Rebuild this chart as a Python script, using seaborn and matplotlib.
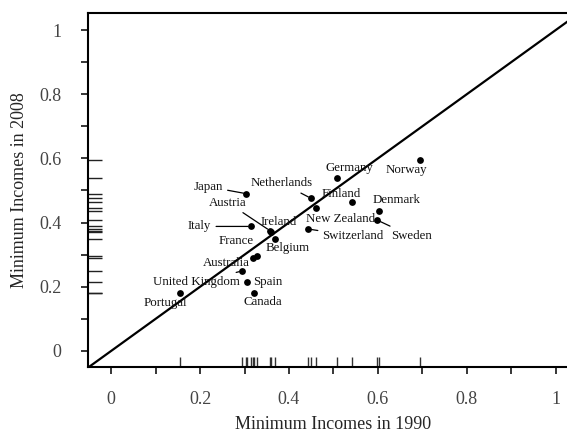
import matplotlib
matplotlib.use("Agg")
import matplotlib.pyplot as plt
import seaborn as sns
import pandas as pd

# Minimum income levels by country, 1990 vs 2008
countries = ["Norway", "Germany", "Japan", "Netherlands", "Finland", "New Zealand",
             "Denmark", "Sweden", "Italy", "Switzerland", "Austria", "Ireland",
             "Belgium", "France", "Australia", "United Kingdom", "Spain", "Canada",
             "Portugal"]
income_1990 = [0.694, 0.509, 0.304, 0.449, 0.541, 0.461, 0.603, 0.598, 0.314, 0.443,
               0.357, 0.360, 0.369, 0.320, 0.327, 0.294, 0.306, 0.321, 0.155]
income_2008 = [0.595, 0.538, 0.490, 0.476, 0.464, 0.446, 0.436, 0.408, 0.388, 0.380,
               0.375, 0.372, 0.349, 0.289, 0.296, 0.249, 0.214, 0.182, 0.180]

tick_values = [0, 0.2, 0.4, 0.6, 0.8, 1]
tick_labels = ["0", "0.2", "0.4", "0.6", "0.8", "1"]

# label placement (pixel offsets from each point) and whether a leader line is drawn
label_offsets = {
    "Norway": (-13, -10, False), "Germany": (12, 10, False), "Japan": (-38, 7, True),
    "Netherlands": (-29, 15, True), "Finland": (-10, 8, False),
    "New Zealand": (24, -11, False), "Denmark": (17, 11, False),
    "Sweden": (34, -16, True), "Italy": (-51, 0, True), "Switzerland": (45, -7, True),
    "Austria": (-42, 28, True), "Ireland": (8, 10, False), "Belgium": (12, -9, False),
    "France": (-17, 17, False), "Australia": (-30, -7, False),
    "United Kingdom": (-45, -11, True), "Spain": (21, 0, False),
    "Canada": (9, -9, False), "Portugal": (-15, -10, False),
}

df = pd.DataFrame({"country": countries, "y1990": income_1990, "y2008": income_2008})

sns.set_style("ticks")
plt.rcParams["font.family"] = ["Liberation Serif", "DejaVu Serif"]

fig = plt.figure(figsize=(5.67, 4.32), dpi=100)
ax = fig.add_axes([88 / 567, 1 - 367 / 432, 490 / 567, 354 / 432])

ax.axline((0, 0), (1, 1), color="black", lw=1.6, zorder=2)

sns.scatterplot(data=df, x="y1990", y="y2008", ax=ax, color="black", s=24,
                edgecolor="black", linewidth=0, zorder=3)

sns.rugplot(data=df, x="y1990", ax=ax, height=0.028, color="#333333", lw=0.8)
sns.rugplot(data=df, y="y2008", ax=ax, height=0.028, color="#222222", lw=1.0)

for name, x, y in zip(countries, income_1990, income_2008):
    dx, dy, leader = label_offsets[name]
    props = dict(arrowstyle="-", color="black", lw=0.9, shrinkA=1, shrinkB=2) if leader else None
    ax.annotate(name, (x, y), xytext=(dx, dy), textcoords="offset pixels",
                ha="center", va="center", fontsize=9.3, color="#111111",
                arrowprops=props, zorder=4)

ax.set_xlim(-0.052, 1.05)
ax.set_ylim(-0.05, 1.053)
ax.set_xticks(tick_values)
ax.set_xticklabels(tick_labels)
ax.set_yticks(tick_values)
ax.set_yticklabels(tick_labels)
ax.set_xticks([0.1, 0.3, 0.5, 0.7, 0.9], minor=True)
ax.set_yticks([0.1, 0.3, 0.5, 0.7, 0.9], minor=True)
ax.tick_params(which="both", direction="out", length=5, width=1.1, color="black",
               labelsize=13, labelcolor="#444444")
ax.tick_params(axis="x", pad=12)
ax.tick_params(axis="y", pad=14)

for side in ["left", "bottom", "top", "right"]:
    ax.spines[side].set_linewidth(1.5)
    ax.spines[side].set_color("black")

ax.set_xlabel("Minimum Incomes in 1990", fontsize=13, labelpad=6)
ax.set_ylabel("Minimum Incomes in 2008", fontsize=13, labelpad=8)

fig.savefig("out.png", dpi=100)
